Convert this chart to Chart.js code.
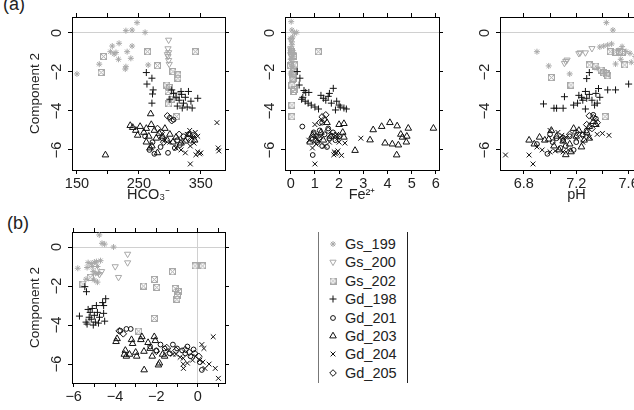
<!DOCTYPE html>
<html>
<head>
<meta charset="utf-8">
<script src="https://cdn.jsdelivr.net/npm/chart.js@4"></script>
<style>
  html, body { margin: 0; padding: 0; background: #fff; }
  body { width: 634px; height: 410px; overflow: hidden; position: relative;
         font-family: "Liberation Sans", Arial, sans-serif; color: #222; }
  canvas { position: absolute; }
  .tag { position: absolute; font-size: 18px; line-height: 18px; }
  #legend { position: absolute; left: 318px; top: 232px; width: 88px; height: 151px;
            border-left: 1px solid #777; border-right: 1px solid #222; }
  #legend .row { position: absolute; left: 0; height: 18px; width: 88px; }
  #legend .row canvas { left: 7px; top: 2px; }
  #legend .row span { position: absolute; left: 26px; top: 0; font-size: 14.5px; line-height: 18px; }
</style>
</head>
<body>
<div class="tag" style="left:3px;top:-5px">(a)</div>
<div class="tag" style="left:7px;top:214px">(b)</div>
<canvas id="p1" width="240" height="208" style="left:0;top:0"></canvas>
<canvas id="p2" width="210" height="208" style="left:240px;top:0"></canvas>
<canvas id="p3" width="210" height="208" style="left:455px;top:0"></canvas>
<canvas id="p4" width="240" height="195" style="left:0;top:215px"></canvas>
<div id="legend"></div>
<script>
// ── data ──────────────────────────────────────────────────────────────
const seriesNames = ["Gs_199", "Gs_200", "Gs_202", "Gd_198", "Gd_201", "Gd_203", "Gd_204", "Gd_205"];

const comp2Ticks = [0, -2, -4, -6];
const hco3Ticks = [150, 200, 250, 300, 350];
const hco3Labels = [150, 250, 350];
const feTicks = [0, 1, 2, 3, 4, 5, 6];
const feLabels = [0, 1, 2, 3, 4, 5, 6];
const phTicks = [6.8, 7.0, 7.2, 7.4, 7.6];
const phLabels = [6.8, 7.2, 7.6];
const comp1Ticks = [-6, -5, -4, -3, -2, -1, 0, 1];
const comp1Labels = [-6, -4, -2, 0];

// panel 1: HCO3- vs component 2
const hco3_Gs199 = [[150,-2.1],[186,-1.6],[204,-0.96],[207,-0.67],[210,-1.08],[218,-0.53],[217,-1.35],[229,0.12],[239,0.15],[247,0.53],[260,0.03],[231,-0.96],[239,-0.67],[237,-1.3],[229,-1.73],[228,-1.85],[265,-1.64],[213,-1.0]];
const hco3_Gs200 = [[298,-0.36],[297,-0.8],[298,-1.0],[297,-1.2],[298,-1.4],[299,-1.6],[296,-1.1]];
const hco3_Gs202 = [[193,-1.21],[189,-2.03],[264,-0.96],[280,-1.68],[341,-0.96],[305,-1.98],[313,-2.15],[313,-2.32],[295,-2.67],[297,-3.0],[298,-3.64],[311,-4.29],[300,-2.8],[310,-3.2],[303,-3.4]];
const hco3_Gd198 = [[262,-2.03],[271,-2.32],[263,-2.62],[273,-2.92],[272,-3.13],[271,-3.6],[303,-2.92],[319,-3.15],[306,-3.1],[310,-3.3],[315,-3.45],[322,-3.6],[325,-3.3],[330,-3.0],[334,-3.5],[345,-3.35],[328,-3.8],[320,-3.85],[336,-3.85],[312,-3.75],[300,-3.4],[318,-3.0]];
const hco3_Gd201 = [[300,-4.35],[306,-4.45],[267,-6.0],[275,-6.2],[297,-6.15],[288,-5.4],[272,-5.6],[260,-5.3],[312,-5.5],[322,-5.3],[330,-5.2],[285,-5.85],[308,-5.9],[316,-5.75]];
const hco3_Gd203 = [[269,-4.15],[196,-6.26],[236,-4.75],[240,-4.85],[245,-5.0],[252,-4.8],[258,-5.1],[262,-4.9],[266,-5.3],[270,-4.7],[275,-5.0],[278,-5.4],[283,-5.15],[288,-5.3],[292,-4.9],[296,-5.5],[300,-5.2],[305,-5.6],[310,-5.35],[318,-5.65],[325,-5.55],[271,-5.8],[268,-5.9],[280,-6.15],[248,-5.25],[262,-5.6],[332,-5.2],[340,-5.5]];
const hco3_Gd204 = [[333,-6.72],[376,-4.6],[378,-5.9],[379,-6.05],[322,-5.5],[328,-5.2],[332,-5.0],[337,-5.35],[341,-5.1],[345,-5.3],[339,-5.65],[325,-6.15],[345,-6.1],[348,-6.2],[342,-6.25],[350,-6.15],[333,-5.8],[300,-5.6],[310,-5.9],[292,-5.5],[318,-6.0]];
const hco3_Gd205 = [[296,-4.25],[303,-4.5],[280,-4.9],[286,-5.1],[330,-5.4],[334,-5.5],[315,-5.2],[290,-5.6],[338,-5.25]];

// panel 2: Fe2+ vs component 2
const fe_Gs199 = [[0.02,0.58],[0.05,0.15],[0.25,0.03],[0.15,0.0],[0.0,-0.3],[0.05,-0.6],[0.0,-0.9],[0.08,-1.2],[0.02,-1.5],[0.1,-1.8],[0.0,-2.1],[0.05,-0.45],[0.12,-1.0],[0.0,-1.35],[0.06,-1.7],[0.03,-2.0],[0.08,-0.2],[0.0,-0.8]];
const fe_Gs200 = [[0.02,-0.36],[0.0,-0.8],[0.04,-1.0],[0.03,-1.2],[0.05,-1.4],[0.02,-1.6],[0.0,-1.1]];
const fe_Gs202 = [[1.14,-0.96],[0.05,-2.67],[0.05,-3.7],[0.05,-4.3],[0.1,-1.2],[0.12,-1.98],[0.08,-2.15],[0.1,-2.32],[0.15,-1.64],[0.03,-0.96],[0.0,-1.68],[0.06,-2.4],[0.15,-2.9],[0.12,-3.0]];
const fe_Gd198 = [[0.27,-1.98],[0.38,-2.32],[0.35,-2.67],[0.55,-2.95],[0.62,-3.05],[0.75,-3.05],[0.5,-3.3],[0.6,-3.5],[0.72,-3.6],[0.85,-3.7],[1.25,-3.2],[1.35,-3.35],[1.45,-3.45],[1.55,-3.25],[1.68,-3.6],[1.76,-2.84],[1.9,-3.5],[2.0,-3.7],[2.2,-3.85],[2.3,-3.9],[1.85,-3.95],[2.05,-3.8],[1.0,-3.8],[1.15,-3.9],[0.45,-3.4],[1.6,-3.1]];
const fe_Gd201 = [[0.48,-4.8],[0.91,-6.26],[1.3,-5.8],[1.5,-5.85],[0.95,-5.1],[1.05,-5.3],[1.2,-5.0],[1.4,-5.2],[1.6,-5.4],[1.75,-5.1],[1.85,-5.5],[1.3,-4.6],[1.55,-4.9],[0.85,-5.4],[1.1,-5.6],[2.0,-5.3]];
const fe_Gd203 = [[3.41,-4.97],[3.76,-4.8],[4.1,-4.6],[4.4,-4.77],[4.86,-4.89],[5.9,-4.89],[3.28,-5.49],[2.66,-6.03],[4.38,-6.26],[3.9,-5.65],[4.2,-5.7],[4.45,-5.75],[4.55,-5.2],[4.62,-5.35],[4.8,-5.3],[4.78,-5.6],[2.15,-5.1],[2.2,-5.35],[2.0,-4.7],[1.25,-5.1],[1.5,-4.6],[1.65,-5.3],[0.9,-5.25],[1.05,-5.5],[2.2,-4.65],[1.35,-5.5],[0.8,-5.6]];
const fe_Gd204 = [[1.0,-6.72],[1.8,-6.1],[1.85,-6.2],[1.9,-6.15],[1.78,-6.25],[1.95,-6.05],[2.1,-6.28],[2.9,-5.4],[2.24,-5.65],[0.9,-5.9],[1.05,-5.7],[1.9,-5.2],[1.95,-5.4],[2.0,-5.6],[0.75,-5.5],[1.25,-5.3],[1.4,-5.8],[1.6,-5.6],[1.0,-4.7]];
const fe_Gd205 = [[1.3,-4.3],[1.45,-4.2],[1.38,-4.45],[1.2,-4.6],[1.55,-5.0],[1.7,-5.3],[0.95,-5.2],[1.15,-5.4],[1.85,-5.25]];

// panel 3: pH vs component 2
const ph_Gs199 = [[6.90,-0.96],[6.99,-1.69],[7.15,-2.1],[7.43,0.53],[7.48,0.15],[7.41,-0.67],[7.47,-0.56],[7.36,-1.81],[7.50,-1.59],[7.54,-1.35],[7.61,-1.04],[7.52,-0.9],[7.58,-0.95],[7.38,-0.72],[7.62,-1.5],[7.55,-0.7],[7.65,-1.2],[7.44,-0.62]];
const ph_Gs200 = [[7.23,-1.01],[7.27,-1.01],[7.32,-0.79],[7.13,-1.38],[7.11,-1.55],[7.12,-1.45],[7.22,-1.05]];
const ph_Gs202 = [[7.01,-2.29],[7.16,-2.67],[7.30,-1.64],[7.39,-1.9],[7.43,-2.1],[7.46,-0.96],[7.53,-0.96],[7.57,-1.64],[7.42,-4.29],[7.41,-2.05],[7.44,-2.2],[7.5,-0.98],[7.55,-1.0],[7.35,-1.7]];
const ph_Gd198 = [[6.95,-3.64],[7.03,-3.86],[7.05,-3.86],[7.10,-3.86],[7.11,-3.27],[7.18,-3.7],[7.21,-3.6],[7.27,-3.9],[7.24,-3.3],[7.27,-3.0],[7.30,-3.15],[7.32,-3.45],[7.35,-3.1],[7.37,-2.85],[7.28,-2.34],[7.30,-2.03],[7.44,-2.92],[7.50,-2.92],[7.60,-2.62],[7.34,-3.7],[7.28,-3.35],[7.38,-3.3],[7.25,-3.45],[7.36,-3.6],[7.22,-3.2]];
const ph_Gd201 = [[6.98,-6.2],[6.9,-5.7],[7.0,-5.2],[7.05,-5.4],[7.1,-5.5],[7.15,-5.3],[7.2,-5.6],[7.25,-5.2],[7.33,-4.2],[7.35,-4.4],[7.08,-5.9],[7.18,-6.0],[7.28,-5.0],[7.12,-5.8],[7.02,-5.6]];
const ph_Gd203 = [[6.84,-5.5],[6.88,-5.7],[6.96,-5.5],[6.99,-5.45],[7.01,-5.0],[7.18,-4.9],[7.03,-5.8],[7.07,-6.0],[7.1,-5.55],[7.12,-6.25],[7.15,-5.7],[7.2,-5.3],[7.22,-5.0],[7.26,-5.5],[7.28,-5.1],[7.3,-4.8],[7.33,-4.55],[7.35,-4.7],[7.24,-5.85],[7.16,-6.1],[7.05,-5.3],[6.92,-5.35],[7.3,-5.4]];
const ph_Gd204 = [[6.66,-6.26],[6.84,-6.26],[6.87,-6.72],[6.9,-5.85],[6.94,-6.0],[7.0,-6.1],[7.04,-6.05],[7.1,-6.1],[7.14,-6.0],[7.0,-5.0],[7.06,-5.1],[7.09,-5.25],[7.36,-5.2],[7.4,-5.15],[7.45,-5.25],[7.2,-5.4],[7.25,-5.6],[7.3,-5.35],[7.12,-5.35]];
const ph_Gd205 = [[7.3,-4.25],[7.33,-4.35],[7.36,-4.6],[7.28,-4.7],[7.2,-5.1],[7.25,-5.25],[7.15,-5.2],[7.32,-4.9],[7.1,-5.4]];

// panel 4: component 1 vs component 2
const comp1_Gs199 = [[-4.76,0.62],[-4.63,0.19],[-4.5,0.15],[-4.07,0.0],[-5.8,-1.09],[-5.3,-0.8],[-5.15,-0.85],[-5.0,-0.78],[-4.9,-0.75],[-5.35,-1.05],[-5.1,-1.0],[-4.85,-1.0],[-5.05,-1.25],[-4.8,-1.35],[-4.95,-1.35],[-5.0,-1.7],[-4.85,-1.8],[-5.4,-1.65],[-4.7,-0.7]];
const comp1_Gs200 = [[-3.39,-0.36],[-3.39,-0.8],[-3.99,-1.0],[-3.83,-1.55],[-4.65,-1.25],[-4.75,-1.4]];
const comp1_Gs202 = [[-0.13,-0.97],[0.24,-0.97],[-1.22,-1.27],[-2.1,-1.66],[-1.98,-2.07],[-2.62,-2.0],[-1.09,-2.12],[-0.93,-2.29],[-1.01,-2.68],[-2.1,-3.66],[-2.86,-4.31],[-5.55,-1.9],[-5.2,-1.55],[-0.98,-2.5]];
const comp1_Gd198 = [[-5.46,-2.03],[-5.38,-2.29],[-5.72,-3.54],[-5.4,-3.85],[-5.35,-3.95],[-5.2,-3.35],[-5.1,-3.15],[-5.0,-3.5],[-4.85,-3.35],[-4.75,-3.6],[-4.6,-2.85],[-4.55,-3.0],[-4.55,-3.4],[-4.5,-3.8],[-5.15,-3.7],[-4.9,-3.0],[-5.25,-3.6],[-4.95,-3.85],[-5.05,-4.0],[-4.8,-3.9],[-4.45,-2.65],[-5.3,-3.2]];
const comp1_Gd201 = [[-3.74,-4.29],[-3.45,-4.2],[-3.24,-4.2],[-1.8,-5.0],[-1.6,-5.2],[-1.35,-5.45],[-1.0,-5.2],[-0.75,-5.3],[-0.6,-5.45],[-0.35,-5.6],[0.2,-6.3],[-2.0,-5.3],[-1.2,-5.0],[-0.5,-5.1],[0.1,-5.9],[-0.2,-5.25],[-2.3,-5.1]];
const comp1_Gd203 = [[-3.9,-4.7],[-3.95,-4.85],[-3.2,-4.75],[-3.15,-4.95],[-2.7,-4.6],[-2.75,-4.75],[-3.0,-5.4],[-2.95,-5.6],[-2.6,-5.35],[-2.1,-4.6],[-2.05,-4.8],[-2.59,-6.3],[-1.9,-6.05],[-1.85,-5.95],[-3.5,-5.3],[-3.45,-5.6],[-3.3,-5.5],[-2.3,-5.2],[-2.2,-5.6],[-1.7,-5.5],[-2.4,-4.9],[-1.6,-5.6],[-3.55,-5.5]];
const comp1_Gd204 = [[0.75,-4.6],[-0.69,-6.22],[-0.7,-6.0],[-0.5,-5.95],[-0.25,-5.8],[0.35,-6.22],[0.85,-6.22],[1.0,-6.73],[-1.05,-5.5],[-0.85,-5.65],[-0.7,-5.7],[-0.1,-5.6],[0.1,-5.8],[0.25,-5.9],[0.3,-5.2],[0.2,-5.0],[-1.4,-5.3],[-1.2,-5.5],[0.55,-6.0]];
const comp1_Gd205 = [[-3.8,-4.3],[-3.6,-4.45],[-1.05,-5.3],[-0.6,-5.25],[-0.15,-5.45],[0.05,-5.6],[-0.4,-5.4],[-1.5,-5.15],[-2.0,-5.35]];

// ── symbols (R pch look-alikes) ───────────────────────────────────────
const GRAY = "#a8a8a8", INK = "#111";
function boxedX(size, color) {
  const c = document.createElement("canvas");
  c.width = c.height = size;
  const g = c.getContext("2d");
  g.strokeStyle = color; g.lineWidth = 1;
  g.strokeRect(0.5, 0.5, size - 1, size - 1);
  g.beginPath();
  g.moveTo(0.5, 0.5); g.lineTo(size - 0.5, size - 0.5);
  g.moveTo(size - 0.5, 0.5); g.lineTo(0.5, size - 0.5);
  g.stroke();
  return c;
}
const symbols = [
  { style: "star",      r: 3,   rot: 0,   color: GRAY },
  { style: "triangle",  r: 3.6, rot: 180, color: GRAY },
  { style: boxedX(7, GRAY), r: 3.5, rot: 0, color: GRAY },
  { style: "cross",     r: 3.5, rot: 0,   color: INK },
  { style: "circle",    r: 2.4, rot: 0,   color: INK },
  { style: "triangle",  r: 3.8, rot: 0,   color: INK },
  { style: "crossRot",  r: 3.4, rot: 0,   color: INK },
  { style: "rectRot",   r: 3.3, rot: 0,   color: INK },
];

const FONT = "'Liberation Sans', Arial, sans-serif";
const minus = v => (v < 0 ? "\u2212" + Math.abs(v) : String(v));
const fixTicks = list => s => { s.ticks = list.map(v => ({ value: v })); };

function panel(id, pos, area, xr, yr, xTicks, xLabels, xTitle, yTitle, sets, zeroX) {
  const yW = area.left - pos.left, y2W = pos.left + pos.w - area.right;
  const xT = area.top - pos.top, xB = pos.top + pos.h - area.bottom;
  const zeroLine = c => (c.tick && c.tick.value === 0 ? "#d0d0d0" : "rgba(0,0,0,0)");
  const tickOpts = { font: { family: FONT, size: 14.5 }, color: "#222" };
  return new Chart(document.getElementById(id), {
    type: "scatter",
    data: {
      datasets: sets.map((pts, i) => ({
        label: seriesNames[i],
        data: pts.map(p => ({ x: p[0], y: p[1] })),
        pointStyle: symbols[i].style,
        pointRadius: symbols[i].r,
        pointRotation: symbols[i].rot,
        pointBorderColor: symbols[i].color,
        pointBackgroundColor: "rgba(0,0,0,0)",
        pointBorderWidth: 1,
        order: sets.length - i,
      })),
    },
    options: {
      responsive: false, animation: false, events: [], devicePixelRatio: 1,
      layout: { padding: 0 },
      plugins: { legend: { display: false }, tooltip: { enabled: false } },
      scales: {
        x: {
          type: "linear", position: "bottom", min: xr[0], max: xr[1],
          afterBuildTicks: fixTicks(xTicks),
          afterFit: s => { s.height = xB; },
          border: { display: true, color: "#000", width: 1 },
          grid: { drawOnChartArea: !!zeroX, color: zeroLine, tickColor: "#000", tickLength: 4 },
          ticks: { ...tickOpts, autoSkip: false, maxRotation: 0, padding: 1,
                   callback: v => (xLabels.includes(v) ? minus(v) : "") },
          title: { display: !!xTitle, text: xTitle, font: { family: FONT, size: 14.5 }, color: "#222",
                   padding: { top: 0, bottom: 4 } },
        },
        x2: {
          type: "linear", position: "top", min: xr[0], max: xr[1],
          afterBuildTicks: fixTicks(xTicks),
          afterFit: s => { s.height = xT; },
          border: { display: true, color: "#000", width: 1 },
          grid: { drawOnChartArea: false, tickColor: "#000", tickLength: 4 },
          ticks: { display: false },
        },
        y: {
          type: "linear", position: "left", min: yr[0], max: yr[1],
          afterBuildTicks: fixTicks(comp2Ticks),
          afterFit: s => { s.width = yW; },
          border: { display: true, color: "#000", width: 1 },
          grid: { drawOnChartArea: true, color: zeroLine, tickColor: "#000", tickLength: 4 },
          ticks: { ...tickOpts, minRotation: 90, maxRotation: 90, crossAlign: "center", padding: 3,
                   callback: v => minus(v) },
          title: { display: !!yTitle, text: yTitle, font: { family: FONT, size: 13.5 }, color: "#222",
                   padding: { top: 27, bottom: 0 } },
        },
        y2: {
          type: "linear", position: "right", min: yr[0], max: yr[1],
          afterBuildTicks: fixTicks(comp2Ticks),
          afterFit: s => { s.width = y2W; },
          border: { display: true, color: "#000", width: 1 },
          grid: { drawOnChartArea: false, tickColor: "#000", tickLength: 4 },
          ticks: { display: false },
        },
      },
    },
  });
}

const Y_RANGE = [-7.03, 0.82];
panel("p1", { left: 0, top: 0, w: 240, h: 208 }, { left: 72, top: 17, right: 225, bottom: 170 },
      [142, 389], Y_RANGE, hco3Ticks, hco3Labels, "HCO\u2083\u207B", "Component 2",
      [hco3_Gs199, hco3_Gs200, hco3_Gs202, hco3_Gd198, hco3_Gd201, hco3_Gd203, hco3_Gd204, hco3_Gd205]);
panel("p2", { left: 240, top: 0, w: 210, h: 208 }, { left: 285, top: 17, right: 439, bottom: 170 },
      [-0.236, 6.13], Y_RANGE, feTicks, feLabels, "Fe\u00B2\u207A", "",
      [fe_Gs199, fe_Gs200, fe_Gs202, fe_Gd198, fe_Gd201, fe_Gd203, fe_Gd204, fe_Gd205]);
panel("p3", { left: 455, top: 0, w: 210, h: 208 }, { left: 500, top: 17, right: 653, bottom: 170 },
      [6.618, 7.786], Y_RANGE, phTicks, phLabels, "pH", "",
      [ph_Gs199, ph_Gs200, ph_Gs202, ph_Gd198, ph_Gd201, ph_Gd203, ph_Gd204, ph_Gd205]);
panel("p4", { left: 0, top: 215, w: 240, h: 195 }, { left: 72, top: 232, right: 225, bottom: 383 },
      [-6.08, 1.32], [-6.97, 0.77], comp1Ticks, comp1Labels, "", "Component 2",
      [comp1_Gs199, comp1_Gs200, comp1_Gs202, comp1_Gd198, comp1_Gd201, comp1_Gd203, comp1_Gd204, comp1_Gd205], true);

// ── legend (symbols drawn with Chart.js' own point renderer) ─────────
const legend = document.getElementById("legend");
seriesNames.forEach((name, i) => {
  const row = document.createElement("div");
  row.className = "row";
  row.style.top = (3 + i * 18.4) + "px";
  const c = document.createElement("canvas");
  c.width = 14; c.height = 14;
  const g = c.getContext("2d");
  g.strokeStyle = symbols[i].color; g.fillStyle = "rgba(0,0,0,0)"; g.lineWidth = 1;
  Chart.helpers.drawPoint(g, { pointStyle: symbols[i].style, radius: symbols[i].r,
                               rotation: symbols[i].rot, borderWidth: 1 }, 7, 7);
  const t = document.createElement("span");
  t.textContent = name;
  row.appendChild(c); row.appendChild(t);
  legend.appendChild(row);
});
</script>
</body>
</html>
